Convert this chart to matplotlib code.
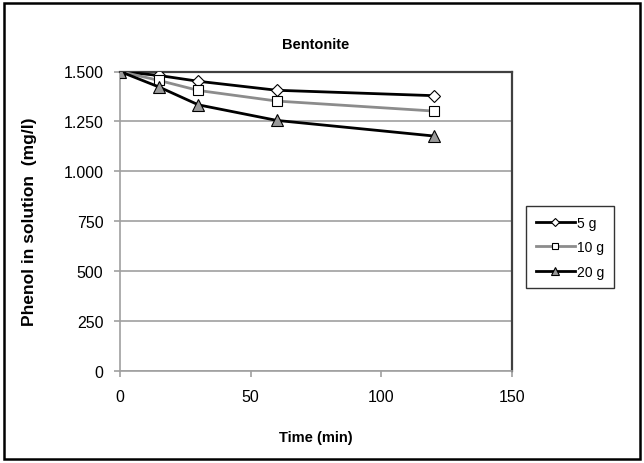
import matplotlib
matplotlib.use("Agg")
import matplotlib.pyplot as plt
from matplotlib.ticker import FuncFormatter

plt.rcParams['font.family'] = ['Liberation Sans', 'DejaVu Sans']

time_min = [0, 15, 30, 60, 120]
series_names = ["5 g", "10 g", "20 g"]
phenol_5g = [1500, 1480, 1451, 1406, 1379]
phenol_10g = [1500, 1455, 1405, 1352, 1302]
phenol_20g = [1500, 1422, 1333, 1255, 1177]
x_ticks = [0, 50, 100, 150]
y_ticks = [0, 250, 500, 750, 1000, 1250, 1500]

fig = plt.figure(figsize=(6.44, 4.64), dpi=100)
ax = fig.add_axes([120/644, 1-372/464, (512-120)/644, (372-72.5)/464])

ax.plot(time_min, phenol_5g, color='black', lw=2.0, marker='D', ms=6.5,
        mfc='white', mec='black', mew=0.8, label=series_names[0], zorder=3)
ax.plot(time_min, phenol_10g, color='#8c8c8c', lw=2.0, marker='s', ms=7.5,
        mfc='white', mec='black', mew=0.8, label=series_names[1], zorder=3)
ax.plot(time_min, phenol_20g, color='black', lw=2.0, marker='^', ms=8.5,
        mfc='#999999', mec='black', mew=0.8, label=series_names[2], zorder=3)

ax.set_xlim(0, 150)
ax.set_ylim(0, 1500)
ax.set_xticks(x_ticks)
ax.set_yticks(y_ticks)
ax.yaxis.set_major_formatter(FuncFormatter(lambda v, p: f"{int(v):,}".replace(",", ".")))
ax.grid(axis='y', color='#a0a0a0', lw=1.2)
ax.set_axisbelow(True)
for s in ['left', 'bottom']:
    ax.spines[s].set_color('#a0a0a0')
    ax.spines[s].set_linewidth(1.2)
for s in ['top', 'right']:
    ax.spines[s].set_color('#404040')
    ax.spines[s].set_linewidth(1.6)
ax.tick_params(direction='out', length=4, width=1.2, color='#a0a0a0',
               labelsize=11.5)
ax.tick_params(axis='x', pad=9)
ax.tick_params(axis='y', pad=8)

ax.set_title("Bentonite", fontsize=10.5, fontweight='bold', pad=17)
ax.set_xlabel("Time (min)", fontsize=10.5, fontweight='bold', labelpad=19)
ax.set_ylabel("Phenol in solution  (mg/l)", fontsize=12.5, fontweight='bold', labelpad=19)

leg = ax.legend(loc='upper left', bbox_to_anchor=(526/644, 1-207/464),
                bbox_transform=fig.transFigure, frameon=True, fancybox=False,
                edgecolor='black', fontsize=10, handlelength=2.8, handletextpad=0.2,
                borderpad=0.7, labelspacing=0.75, markerscale=0.65,
                borderaxespad=0)
leg.get_frame().set_linewidth(1.0)

border = plt.Rectangle((4/644, 4/464), 636/644, 456/464, transform=fig.transFigure,
                       fill=False, edgecolor='black', lw=1.8)
fig.patches.append(border)

fig.savefig("out.png", dpi=100)
